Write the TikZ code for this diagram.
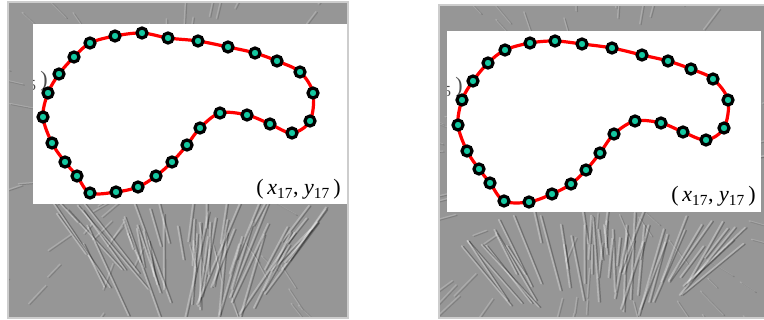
\documentclass[tikz,border=0pt]{standalone}
\usepackage{fontspec}
\setmainfont{Liberation Serif}
\definecolor{bggray}{RGB}{150,150,150}
\definecolor{framegray}{RGB}{205,205,205}
\definecolor{teal}{RGB}{20,200,160}
\tikzset{
  dotnode/.style={circle,draw=black,fill=teal,line width=3.2pt,minimum size=10pt,inner sep=0pt},
  contour/.style={red,line width=3.2pt},
  lbl/.style={font=\fontsize{22}{26}\selectfont,inner sep=0pt},
  cutlbl/.style={font=\fontsize{22}{26}\selectfont,inner sep=0pt,text=black!70},
  streaklight/.style={white,opacity=.3,line width=1.6pt,line cap=round},
  streakdark/.style={black,opacity=.25,line width=1.2pt,line cap=round},
  softlight/.style={white,opacity=.2,line width=1.3pt,line cap=round},
  softdark/.style={black,opacity=.15,line width=1pt,line cap=round},
}
\newcommand{\mylabel}{(\,\textit{x}\textsubscript{17},~\textit{y}\textsubscript{17}\,)}
\newcommand{\cuttext}{\textsubscript{5}\hspace{4pt})}
\begin{document}
\begin{tikzpicture}[x=1pt,y=-1pt]
\useasboundingbox (0,0) rectangle (764,320);
\fill[white] (0,0) rectangle (764,320);
% ---------- left panel ----------
\fill[bggray] (8,2) rectangle (348,318);
\pgfmathsetseed{11}
\begin{scope}
\clip (8,2) rectangle (348,318);
\foreach \i in {1,...,80} {
  \pgfmathsetmacro{\px}{8+340*rnd}
  \pgfmathsetmacro{\py}{2+316*rnd}
  \pgfmathsetmacro{\ang}{atan2(\py-150,\px-180)+20*(rnd-.5)}
  \pgfmathsetmacro{\len}{12+25*rnd}
  \draw[softlight] (\px,\py) -- ++(\ang:\len);
  \draw[softdark] (\px+1.5,\py+1) -- ++(\ang:\len);
}
\foreach \i in {1,...,55} {
  \pgfmathsetmacro{\px}{50+280*rnd}
  \pgfmathsetmacro{\py}{195+50*rnd}
  \pgfmathsetmacro{\ang}{90+(\px-185)*0.3+16*(rnd-.5)}
  \pgfmathsetmacro{\len}{30+80*rnd}
  \draw[streaklight] (\px,\py) -- ++(\ang:\len);
  \draw[streakdark] (\px+2,\py+.5) -- ++(\ang:\len);
}
\end{scope}
\draw[framegray,line width=1.5pt] (8,2) rectangle (348,318);
\fill[white] (33,24) rectangle (347,204);
\begin{scope}
\clip (33,24) rectangle (347,204);
\node[cutlbl,anchor=base east] (lcut) at (48,87) {\cuttext};
\end{scope}
\draw[contour] plot[smooth cycle,tension=0.55] coordinates {
(90,43) (115,36) (142,33) (168,38) (198,41) (228,47) (255,53) (277,61) (300,72)
(313,93) (310,121) (292,133) (270,124) (247,115) (220,113) (200,128) (187,145)
(172,162) (156,176) (138,187) (116,192) (90,193) (77,176) (65,162) (52,143)
(43,117) (48,93) (59,74) (74,57)};
\foreach \p [count=\k] in {(90,43),(115,36),(142,33),(168,38),(198,41),(228,47),(255,53),(277,61),(300,72),
(313,93),(310,121),(292,133),(270,124),(247,115),(220,113),(200,128),(187,145),
(172,162),(156,176),(138,187),(116,192),(90,193),(77,176),(65,162),(52,143),
(43,117),(48,93),(59,74),(74,57)}
  \node[dotnode] (L\k) at \p {};
\node[lbl,anchor=base east] (ltxt) at (341,195) {\mylabel};
% ---------- right panel ----------
\fill[bggray] (439,5) rectangle (764,318);
\pgfmathsetseed{23}
\begin{scope}
\clip (439,5) rectangle (764,318);
\foreach \i in {1,...,80} {
  \pgfmathsetmacro{\px}{439+325*rnd}
  \pgfmathsetmacro{\py}{5+313*rnd}
  \pgfmathsetmacro{\ang}{atan2(\py-170,\px-600)+20*(rnd-.5)}
  \pgfmathsetmacro{\len}{12+25*rnd}
  \draw[softlight] (\px,\py) -- ++(\ang:\len);
  \draw[softdark] (\px+1.5,\py+1) -- ++(\ang:\len);
}
\foreach \i in {1,...,50} {
  \pgfmathsetmacro{\px}{460+290*rnd}
  \pgfmathsetmacro{\py}{205+45*rnd}
  \pgfmathsetmacro{\ang}{90+(\px-600)*0.3+16*(rnd-.5)}
  \pgfmathsetmacro{\len}{25+65*rnd}
  \draw[streaklight] (\px,\py) -- ++(\ang:\len);
  \draw[streakdark] (\px+2,\py+.5) -- ++(\ang:\len);
}
\end{scope}
\draw[framegray,line width=1.5pt] (439,5) rectangle (765,318);
\fill[white] (447,31) rectangle (761,212);
\begin{scope}
\clip (447,31) rectangle (761,212);
\node[cutlbl,anchor=base east] (rcut) at (463,93) {\cuttext};
\end{scope}
\draw[contour] plot[smooth cycle,tension=0.55] coordinates {
(505,50) (530,43) (555,41) (582,44) (612,48) (642,55) (668,61) (691,69) (713,79)
(728,100) (724,128) (706,140) (683,132) (661,123) (635,121) (614,134) (600,153)
(586,170) (571,184) (552,194) (529,202) (504,201) (490,183) (479,169) (467,151)
(458,125) (462,100) (473,81) (488,63)};
\foreach \p [count=\k] in {(505,50),(530,43),(555,41),(582,44),(612,48),(642,55),(668,61),(691,69),(713,79),
(728,100),(724,128),(706,140),(683,132),(661,123),(635,121),(614,134),(600,153),
(586,170),(571,184),(552,194),(529,202),(504,201),(490,183),(479,169),(467,151),
(458,125),(462,100),(473,81),(488,63)}
  \node[dotnode] (R\k) at \p {};
\node[lbl,anchor=base east] (rtxt) at (756,202) {\mylabel};
\end{tikzpicture}
\end{document}
